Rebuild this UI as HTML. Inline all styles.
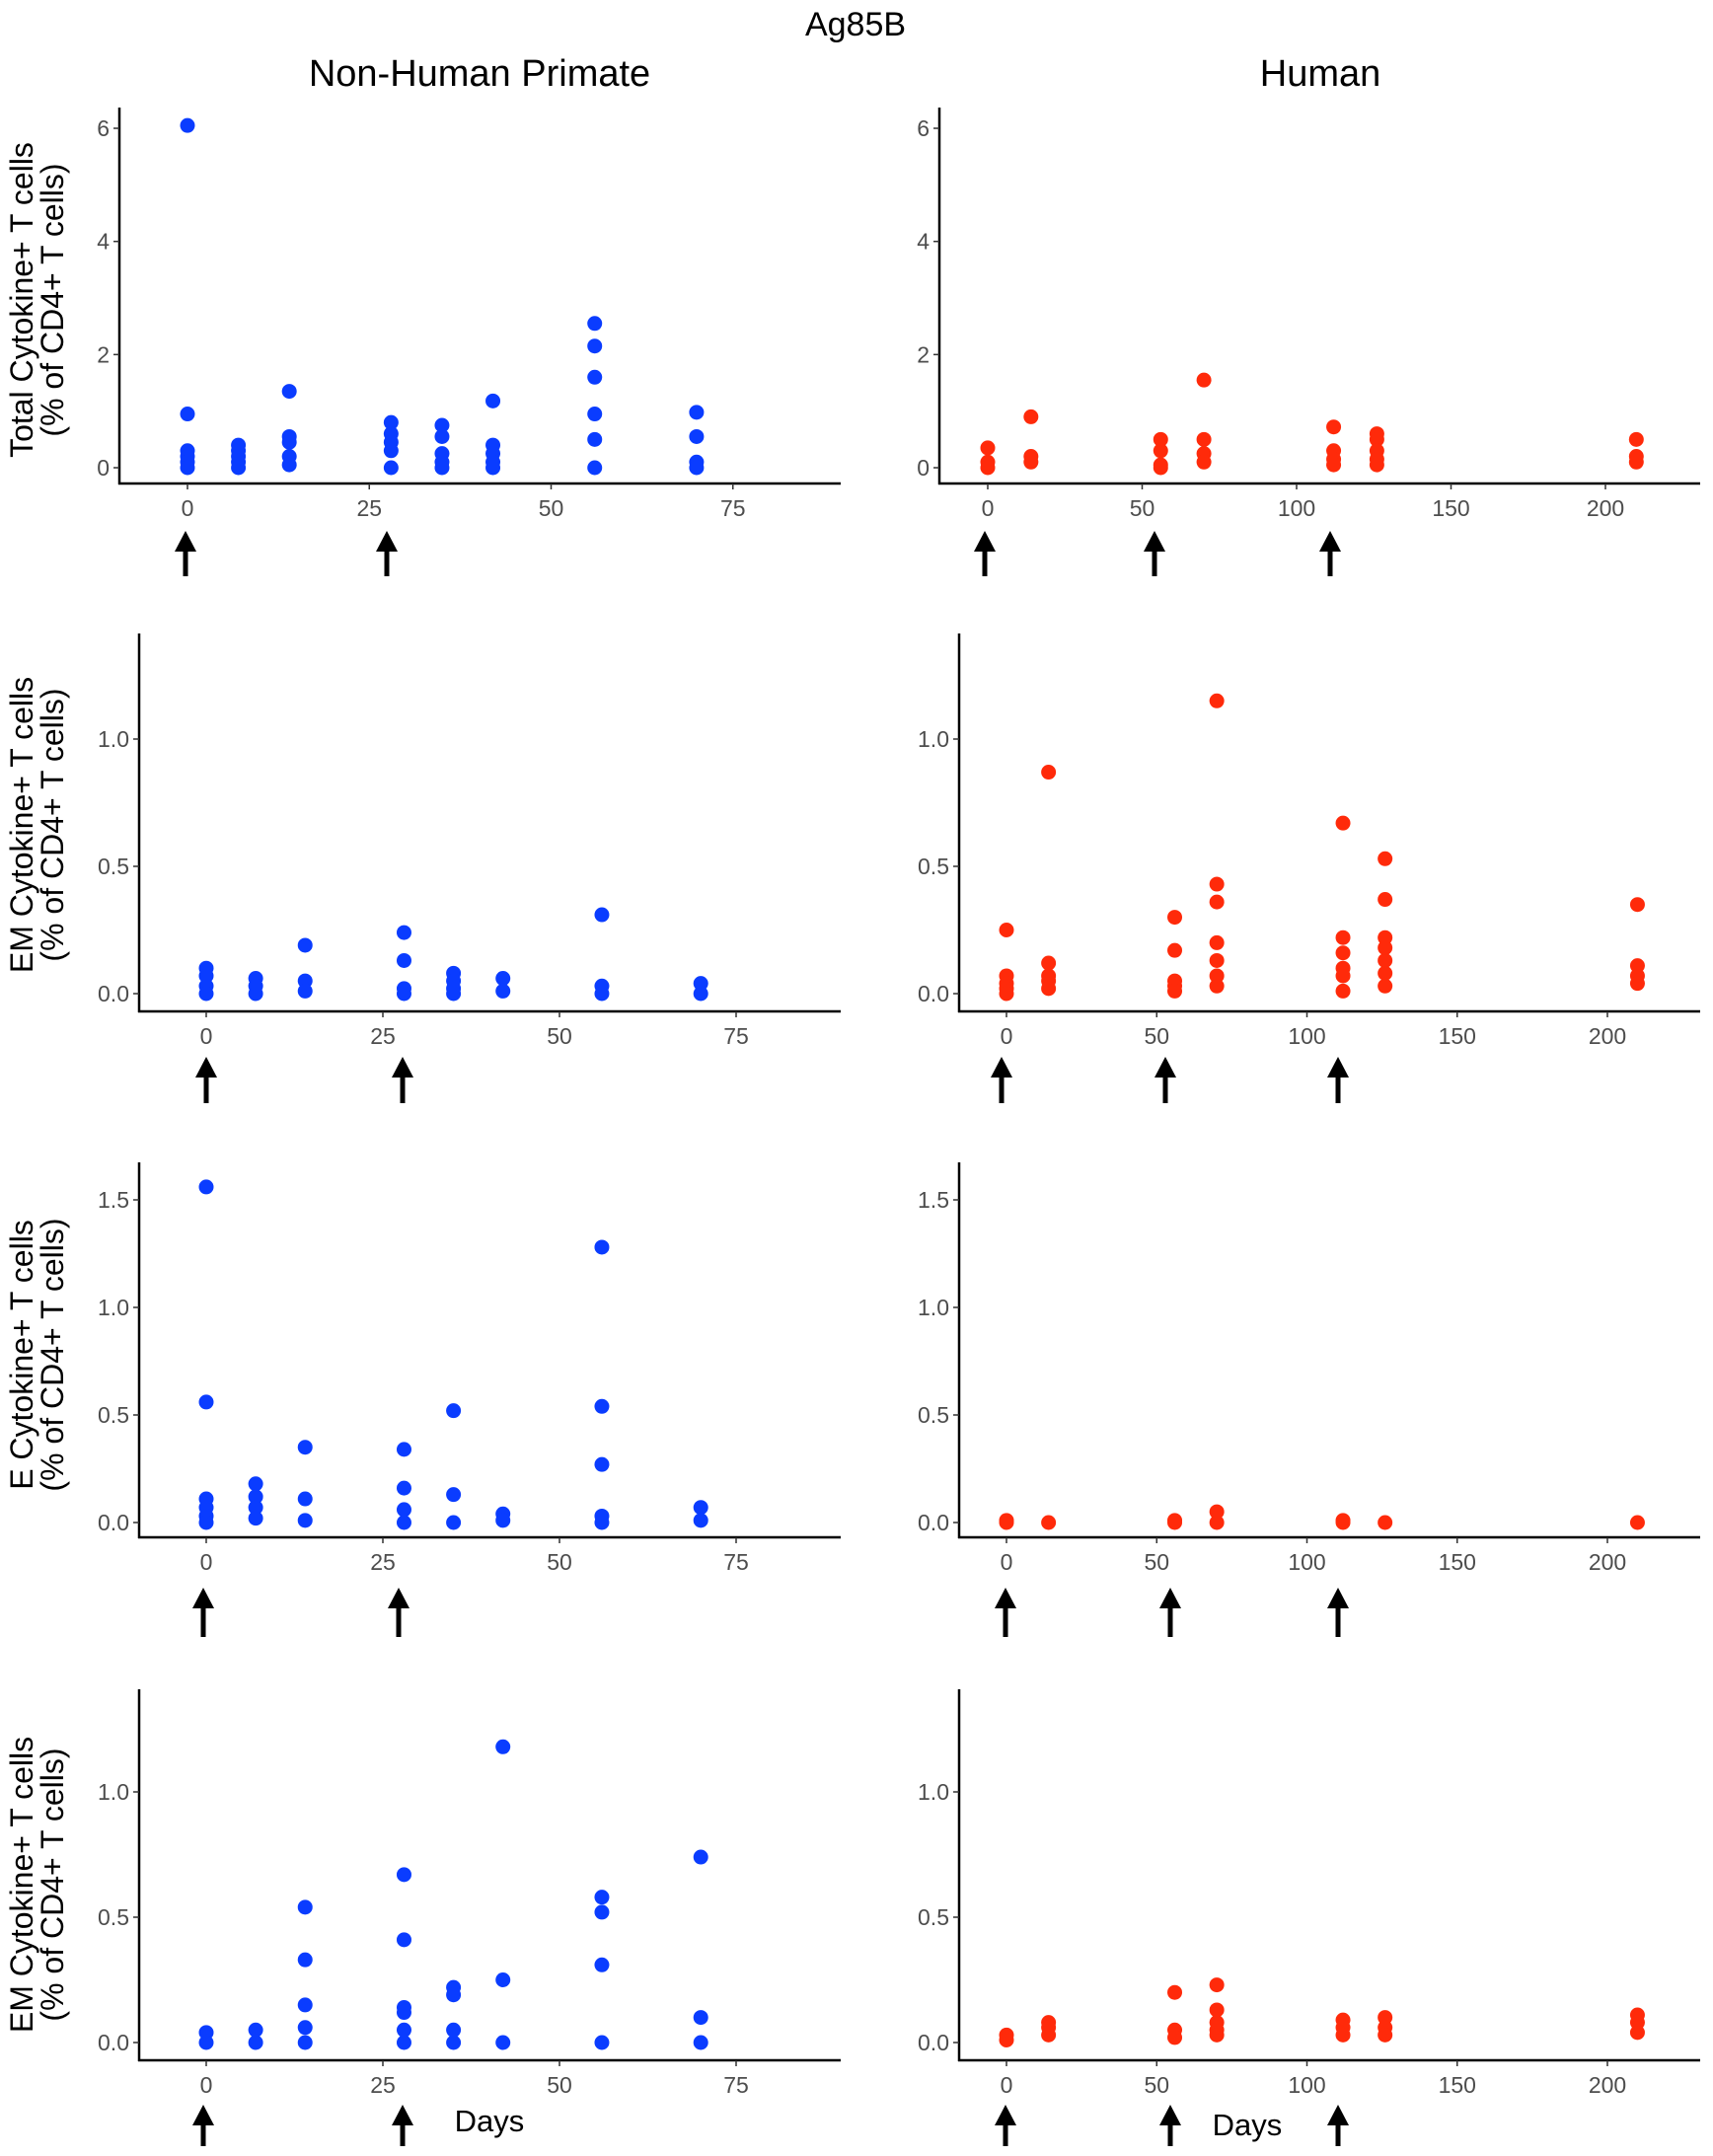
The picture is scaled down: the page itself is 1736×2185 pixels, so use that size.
<!DOCTYPE html>
<html><head><meta charset="utf-8"><style>
html,body{margin:0;padding:0;background:#fff}
svg{display:block;font-family:"Liberation Sans",sans-serif}
</style></head><body>
<svg id="s" width="1736" height="2185" viewBox="0 0 1736 2185" xmlns="http://www.w3.org/2000/svg">
<text x="867" y="36" font-size="34" text-anchor="middle" fill="#000">Ag85B</text>
<text x="486" y="87" font-size="38" text-anchor="middle" fill="#000">Non-Human Primate</text>
<text x="1338" y="87" font-size="38" text-anchor="middle" fill="#000">Human</text>
<text x="496" y="2160" font-size="31" text-anchor="middle" fill="#000">Days</text>
<text x="1264" y="2164" font-size="31" text-anchor="middle" fill="#000">Days</text>
</svg>
<script>
var s=document.getElementById('s'),NS='http://www.w3.org/2000/svg';
function el(t,a,txt){var e=document.createElementNS(NS,t);for(var k in a)e.setAttribute(k,a[k]);if(txt!=null)e.textContent=txt;s.appendChild(e);return e;}
var rows=[
 {xa:490,top:109,y0:474,pu:57.33,ticks:[0,2,4,6],fmt:0,lab:"Total Cytokine+ T cells",cy:304,arY:[538,584]},
 {xa:1025,top:642,y0:1007,pu:258,ticks:[0,0.5,1.0],fmt:1,lab:"EM Cytokine+ T cells",cy:836,arY:[1071,1118]},
 {xa:1558,top:1178,y0:1543,pu:218,ticks:[0,0.5,1.0,1.5],fmt:1,lab:"E Cytokine+ T cells",cy:1373,arY:[1609,1659]},
 {xa:2088,top:1712,y0:2070,pu:254,ticks:[0,0.5,1.0],fmt:1,lab:"EM Cytokine+ T cells",cy:1910,arY:[2133,2175]}
];
var L=[
 [[0,[6.05,0.95,0.3,0.2,0.1,0]],[7,[0.4,0.3,0.2,0.1,0]],[14,[1.35,0.55,0.45,0.2,0.05]],[28,[0.8,0.6,0.45,0.3,0]],[35,[0.75,0.55,0.25,0.1,0]],[42,[1.18,0.4,0.25,0.1,0]],[56,[2.55,2.15,1.6,0.95,0.5,0]],[70,[0.98,0.55,0.1,0]]],
 [[0,[0.1,0.07,0.03,0]],[7,[0.06,0.03,0]],[14,[0.19,0.05,0.01]],[28,[0.24,0.13,0.02,0]],[35,[0.08,0.05,0.02,0]],[42,[0.06,0.01]],[56,[0.31,0.03,0]],[70,[0.04,0]]],
 [[0,[1.56,0.56,0.11,0.07,0.03,0]],[7,[0.18,0.12,0.07,0.02]],[14,[0.35,0.11,0.01]],[28,[0.34,0.16,0.06,0]],[35,[0.52,0.13,0]],[42,[0.04,0.01]],[56,[1.28,0.54,0.27,0.03,0]],[70,[0.07,0.01]]],
 [[0,[0.04,0]],[7,[0.05,0]],[14,[0.54,0.33,0.15,0.06,0]],[28,[0.67,0.41,0.14,0.12,0.05,0]],[35,[0.22,0.19,0.05,0]],[42,[1.18,0.25,0]],[56,[0.58,0.52,0.31,0]],[70,[0.74,0.1,0]]]
];
var R=[
 [[0,[0.35,0.1,0]],[14,[0.9,0.2,0.1]],[56,[0.5,0.3,0.05,0]],[70,[1.55,0.5,0.25,0.1]],[112,[0.72,0.3,0.15,0.05]],[126,[0.6,0.5,0.3,0.15,0.05]],[210,[0.5,0.2,0.1]]],
 [[0,[0.25,0.07,0.04,0.02,0]],[14,[0.87,0.12,0.07,0.05,0.02]],[56,[0.3,0.17,0.05,0.03,0.01]],[70,[1.15,0.43,0.36,0.2,0.13,0.07,0.03]],[112,[0.67,0.22,0.16,0.1,0.07,0.01]],[126,[0.53,0.37,0.22,0.18,0.13,0.08,0.03]],[210,[0.35,0.11,0.07,0.04]]],
 [[0,[0.01,0]],[14,[0]],[56,[0.01,0]],[70,[0.05,0]],[112,[0.01,0]],[126,[0]],[210,[0]]],
 [[0,[0.03,0.01]],[14,[0.08,0.06,0.03]],[56,[0.2,0.05,0.02]],[70,[0.23,0.13,0.08,0.05,0.03]],[112,[0.09,0.06,0.03]],[126,[0.1,0.06,0.03]],[210,[0.11,0.08,0.04]]]
];
var LX=[{ax:121,x0:190,pd:7.37,end:852,arr:[188,392]},{ax:141,x0:209,pd:7.16,end:852,arr:[209,408]},{ax:141,x0:209,pd:7.16,end:852,arr:[206,404]},{ax:141,x0:209,pd:7.16,end:852,arr:[206,408]}];
var RX=[{ax:952,x0:1001,pd:3.13,end:1723,arr:[998,1170,1348]},{ax:972,x0:1020,pd:3.045,end:1723,arr:[1015,1181,1356]},{ax:972,x0:1020,pd:3.045,end:1723,arr:[1019,1186,1356]},{ax:972,x0:1020,pd:3.045,end:1723,arr:[1019,1186,1356]}];
function panel(r,X,data,col,xt){
 el('line',{x1:X.ax,y1:r.top,x2:X.ax,y2:r.xa+1,stroke:'#000','stroke-width':2.5});
 el('line',{x1:X.ax-1,y1:r.xa,x2:X.end,y2:r.xa,stroke:'#000','stroke-width':2.5});
 r.ticks.forEach(function(t){var y=r.y0-t*r.pu;
  el('line',{x1:X.ax-6,y1:y,x2:X.ax,y2:y,stroke:'#333','stroke-width':1.5});
  el('text',{x:X.ax-10,y:y+8,'font-size':23,'text-anchor':'end',fill:'#4d4d4d'},r.fmt?t.toFixed(1):String(t));});
 xt.forEach(function(t){var x=X.x0+t*X.pd;
  el('line',{x1:x,y1:r.xa,x2:x,y2:r.xa+6,stroke:'#333','stroke-width':1.5});
  el('text',{x:x,y:r.xa+33,'font-size':23,'text-anchor':'middle',fill:'#4d4d4d'},String(t));});
 data.forEach(function(d){d[1].forEach(function(v){
  el('circle',{cx:X.x0+d[0]*X.pd,cy:r.y0-v*r.pu,r:7.5,fill:col});});});
 X.arr.forEach(function(x){var a=r.arY[0],b=r.arY[1];
  el('polygon',{points:(x-11)+','+(a+21)+' '+x+','+a+' '+(x+11)+','+(a+21),fill:'#000'});
  el('rect',{x:x-2.5,y:a+18,width:5,height:b-a-18,fill:'#000'});});
}
rows.forEach(function(r,i){
 panel(r,LX[i],L[i],'#0a3cff',[0,25,50,75]);
 panel(r,RX[i],R[i],'#ff2a0a',[0,50,100,150,200]);
 var g=el('text',{transform:'translate(0,'+r.cy+') rotate(-90)','font-size':32,'text-anchor':'middle',fill:'#000'});
 var t1=document.createElementNS(NS,'tspan');t1.setAttribute('x',0);t1.setAttribute('y',33);t1.textContent=r.lab;g.appendChild(t1);
 var t2=document.createElementNS(NS,'tspan');t2.setAttribute('x',0);t2.setAttribute('y',64);t2.textContent='(% of CD4+ T cells)';g.appendChild(t2);
});
</script>
</body></html>
